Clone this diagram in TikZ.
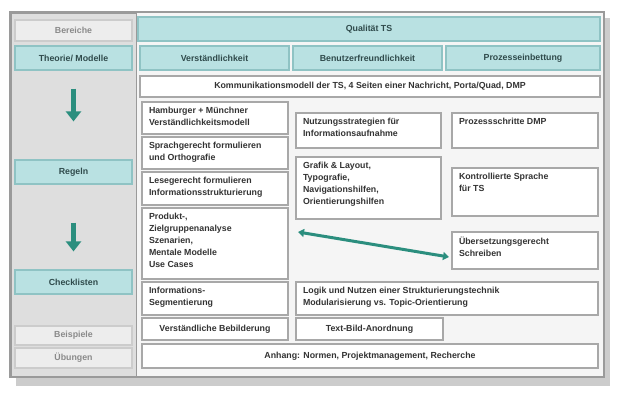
\documentclass[tikz,border=0pt]{standalone}
\usepackage{fontspec}
\setmainfont{Liberation Sans}
\usetikzlibrary{arrows.meta}
\definecolor{tealfill}{HTML}{B9E1E2}
\definecolor{tealdraw}{HTML}{8FC3C4}
\definecolor{tealtext}{HTML}{2F4A4B}
\definecolor{arrowc}{HTML}{2B8E7E}
\definecolor{cellborder}{HTML}{A8A8A8}
\definecolor{leftbg}{HTML}{DEDEDE}
\definecolor{mainbg}{HTML}{F5F5F5}
\definecolor{framec}{HTML}{9A9A9A}
\definecolor{bodytext}{HTML}{333333}
\definecolor{fadetext}{HTML}{8A8A8A}
\newcommand\cbox[7][]{%
  \pgfmathsetmacro\cw{#5-#3}\pgfmathsetmacro\ch{#6-#4}%
  \pgfmathsetmacro\tw{\cw-14}\pgfmathsetmacro\th{\ch-10}%
  \node[cell,#1,minimum width=\cw pt,minimum height=\ch pt] (#2) at ({(#3+#5)/2},{(#4+#6)/2})
    {\parbox[c][\th pt][t]{\tw pt}{\raggedright #7}};}
\newcommand\lbox[7][]{%
  \pgfmathsetmacro\cw{#5-#3}\pgfmathsetmacro\ch{#6-#4}%
  \node[cell,#1,minimum width=\cw pt,minimum height=\ch pt] (#2) at ({(#3+#5)/2},{(#4+#6)/2}) {#7};}
\begin{document}
\begin{tikzpicture}[x=1pt,y=-1pt,
  font=\fontsize{8.8}{12}\selectfont\bfseries,
  cell/.style={draw=cellborder,line width=1.2pt,fill=white,inner sep=0pt,text=bodytext,align=center},
  hdr/.style={fill=tealfill,draw=tealdraw,text=tealtext},
  fade/.style={fill=black!7,draw=black!20,text=fadetext},
  downarrow/.style={draw=arrowc,line width=5pt,-{Triangle[width=15pt,length=10pt]}},
  diagarrow/.style={draw=arrowc,line width=3pt,{Triangle[width=8pt,length=6pt]}-{Triangle[width=8pt,length=6pt]}}]
\useasboundingbox (0,0) rectangle (623,400);
% frame and shadow
\fill[black!20] (16,18) rectangle (610,386);
\filldraw[fill=mainbg,draw=framec,line width=1.5pt] (10,12) rectangle (604,377);
\filldraw[fill=leftbg,draw=framec,line width=1pt] (11,13) rectangle (136,376);
% header rows
\lbox[fade]{bereiche}{15}{20}{132}{41}{Bereiche}
\lbox[hdr]{qualitaet}{138}{17}{600}{41}{Qualität TS}
\lbox[hdr]{theorie}{15}{46}{132}{70}{Theorie/ Modelle}
\lbox[hdr]{verst}{140}{46}{289}{70}{Verständlichkeit}
\lbox[hdr]{benutz}{293}{46}{442}{70}{Benutzerfreundlichkeit}
\lbox[hdr]{prozess}{446}{46}{600}{70}{Prozesseinbettung}
\lbox{kommu}{140}{76}{600}{97}{Kommunikationsmodell der TS, 4 Seiten einer Nachricht, Porta/Quad, DMP}
% left column
\lbox[hdr]{regeln}{15}{160}{132}{184}{Regeln}
\lbox[hdr]{check}{15}{270}{132}{294}{Checklisten}
\lbox[fade]{beisp}{15}{326}{132}{345}{Beispiele}
\lbox[fade]{uebung}{15}{348}{132}{368}{Übungen}
\draw[downarrow,shorten <=18pt,shorten >=38pt] (theorie) -- (regeln);
\draw[downarrow,shorten <=38pt,shorten >=18pt] (regeln) -- (check);
% Verständlichkeit column
\cbox{hamb}{142}{102}{288}{134}{Hamburger + Münchner\\Verständlichkeitsmodell}
\cbox{sprach}{142}{137}{288}{169}{Sprachgerecht formulieren\\und Orthografie}
\cbox{lese}{142}{172}{288}{205}{Lesegerecht formulieren\\Informationsstrukturierung}
\cbox{produkt}{142}{208}{288}{279}{Produkt-,\\Zielgruppenanalyse\\Szenarien,\\Mentale Modelle\\Use Cases}
\cbox{info}{142}{282}{288}{315}{Informations-\\Segmentierung}
\lbox{bebild}{142}{318}{288}{340}{Verständliche Bebilderung}
% Benutzerfreundlichkeit column
\cbox{nutz}{296}{113}{441}{148}{Nutzungsstrategien für\\Informationsaufnahme}
\cbox{grafik}{296}{157}{441}{219}{Grafik \& Layout,\\Typografie,\\Navigationshilfen,\\Orientierungshilfen}
\cbox{logik}{296}{282}{598}{315}{Logik und Nutzen einer Strukturierungstechnik\\Modularisierung vs. Topic-Orientierung}
\lbox{textbild}{296}{318}{443}{340}{Text-Bild-Anordnung}
% Prozesseinbettung column
\cbox{dmp}{452}{113}{598}{148}{Prozessschritte DMP}
\cbox{kontr}{452}{168}{598}{216}{Kontrollierte Sprache\\für TS}
\cbox{ueber}{452}{232}{598}{269}{Übersetzungsgerecht\\Schreiben}
% bottom
\lbox{anhang}{142}{344}{598}{368}{Anhang: Normen, Projektmanagement, Recherche}
% diagonal arrow
\coordinate (dstart) at (298,232);
\coordinate (dend) at (449,257);
\draw[diagarrow] (dstart) -- (dend);
\end{tikzpicture}
\end{document}
